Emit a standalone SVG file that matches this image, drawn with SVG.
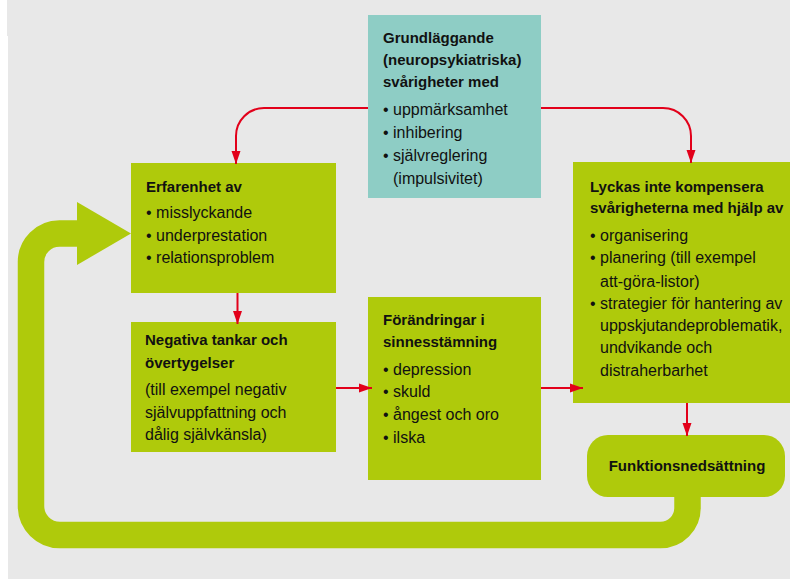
<svg xmlns="http://www.w3.org/2000/svg" width="790" height="579" viewBox="0 0 790 579">
<defs>
<style>
.bg{fill:#e8e8e8}
.g{fill:#afca0b}
.t{fill:#8ecdc5}
text{font-family:"Liberation Sans",Arial,sans-serif;fill:#111}
.h{font-weight:bold;font-size:15px}
.b{font-size:16px}
.c{fill:none;stroke:#e2001a;stroke-width:2}
.loop{fill:none;stroke:#afca0b;stroke-width:26.5}
</style>
<marker id="ah" markerUnits="userSpaceOnUse" markerWidth="14" markerHeight="11" refX="13" refY="5.5" orient="auto">
<path d="M0,1 L13,5.5 L0,10 z" fill="#e2001a"/>
</marker>
</defs>
<rect x="0" y="0" width="790" height="579" fill="#ffffff"/>
<rect class="bg" x="7" y="0" width="783" height="36"/>
<rect class="bg" x="8" y="35" width="782" height="544"/>

<g id="loop">
<path class="loop" d="M687.5,490 V508 A27,27 0 0 1 660.5,535 H60 A29,29 0 0 1 31,506 V262 A28.5,28.5 0 0 1 59.5,233.5 H80"/>
<polygon class="g" points="77,202 131,233.5 77,265"/>
</g>

<g id="grund">
<rect class="t" x="368" y="15" width="173" height="183"/>
<text class="h" x="383" y="43">Grundläggande</text>
<text class="h" x="383" y="65">(neuropsykiatriska)</text>
<text class="h" x="383" y="87">svårigheter med</text>
<text class="b" x="383" y="115">• uppmärksamhet</text>
<text class="b" x="383" y="138">• inhibering</text>
<text class="b" x="383" y="161">• självreglering</text>
<text class="b" x="393" y="184">(impulsivitet)</text>
</g>

<g id="erfarenhet">
<rect class="g" x="131" y="163" width="205" height="130"/>
<text class="h" x="146" y="192">Erfarenhet av</text>
<text class="b" x="146" y="218">• misslyckande</text>
<text class="b" x="146" y="241">• underprestation</text>
<text class="b" x="146" y="263">• relationsproblem</text>
</g>

<g id="negativa">
<rect class="g" x="131" y="322" width="205" height="130"/>
<text class="h" x="145" y="345">Negativa tankar och</text>
<text class="h" x="145" y="368">övertygelser</text>
<text class="b" x="145" y="395">(till exempel negativ</text>
<text class="b" x="145" y="418">självuppfattning och</text>
<text class="b" x="145" y="440">dålig självkänsla)</text>
</g>

<g id="forandringar">
<rect class="g" x="368" y="297" width="173" height="183"/>
<text class="h" x="383" y="325">Förändringar i</text>
<text class="h" x="383" y="347">sinnesstämning</text>
<text class="b" x="383" y="375">• depression</text>
<text class="b" x="383" y="397">• skuld</text>
<text class="b" x="383" y="420">• ångest och oro</text>
<text class="b" x="383" y="443">• ilska</text>
</g>

<g id="lyckas">
<rect class="g" x="573" y="162" width="217" height="241"/>
<text class="h" x="590" y="192">Lyckas inte kompensera</text>
<text class="h" x="590" y="213">svårigheterna med hjälp av</text>
<text class="b" x="590" y="241">• organisering</text>
<text class="b" x="590" y="263">• planering (till exempel</text>
<text class="b" x="600" y="287">att-göra-listor)</text>
<text class="b" x="590" y="309">• strategier för hantering av</text>
<text class="b" x="600" y="331">uppskjutandeproblematik,</text>
<text class="b" x="600" y="353">undvikande och</text>
<text class="b" x="600" y="376">distraherbarhet</text>
</g>

<g id="funktion">
<rect class="g" x="587" y="435" width="198" height="62" rx="21" ry="21"/>
<text class="h" x="687" y="471" text-anchor="middle">Funktionsnedsättning</text>
</g>

<g id="connectors">
<path class="c" marker-end="url(#ah)" d="M368,108 H264 A28,28 0 0 0 236,136 V164"/>
<path class="c" marker-end="url(#ah)" d="M541,108 H663 A28,28 0 0 1 691,136 V163"/>
<path class="c" marker-end="url(#ah)" d="M237.5,293 V324"/>
<path class="c" marker-end="url(#ah)" d="M336,388 H372"/>
<path class="c" marker-end="url(#ah)" d="M541,388 H583"/>
<path class="c" marker-end="url(#ah)" d="M687,403 V436"/>
</g>
</svg>
